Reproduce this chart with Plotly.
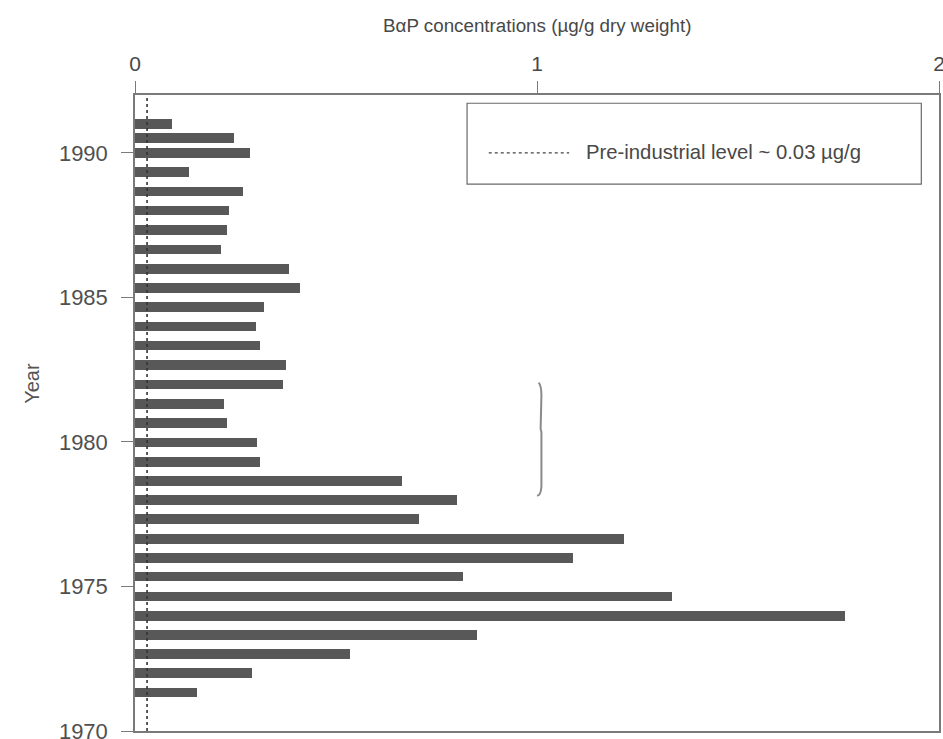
import plotly.graph_objects as go

# ---- data ----
years = [1991.00, 1990.52, 1990.00, 1989.34, 1988.67, 1988.00, 1987.33, 1986.66,
         1985.99, 1985.33, 1984.67, 1984.00, 1983.33, 1982.66, 1981.99, 1981.32,
         1980.65, 1979.98, 1979.31, 1978.65, 1978.00, 1977.34, 1976.65, 1975.99,
         1975.34, 1974.65, 1973.98, 1973.32, 1972.66, 1972.00, 1971.33]
bap_conc = [0.091, 0.246, 0.286, 0.134, 0.269, 0.233, 0.229, 0.214,
            0.382, 0.410, 0.322, 0.301, 0.311, 0.376, 0.369, 0.222,
            0.229, 0.304, 0.311, 0.665, 0.800, 0.707, 1.216, 1.090,
            0.817, 1.337, 1.765, 0.850, 0.534, 0.290, 0.153]
pre_industrial = 0.03
x_ticks = [0, 1, 2]
y_ticks = [1970, 1975, 1980, 1985, 1990]
x_range = [0, 2]
y_range = [1970, 1992]

FONT = "Liberation Sans, Arial, sans-serif"
TXT = "#484848"
AX = "#7a7a7a"

fig = go.Figure()
fig.add_trace(go.Bar(
    x=bap_conc, y=years, orientation="h", width=0.33,
    marker=dict(color="#585858", line=dict(width=0)),
    showlegend=False, hoverinfo="x+y"))
fig.add_trace(go.Scatter(
    x=[pre_industrial, pre_industrial], y=y_range, mode="lines",
    line=dict(color="#333333", width=1.6, dash="dot"),
    showlegend=False, hoverinfo="skip"))

# hand-drawn bracket artefact near x = 1
fig.add_shape(type="path", xref="x", yref="y",
              path="M 1.004,1982.05 Q 1.011,1981.95 1.011,1981.6 L 1.009,1980.45 "
                   "L 1.011,1980.35 L 1.011,1978.45 Q 1.009,1978.12 1.0,1978.15",
              line=dict(color="#8a8a8a", width=2))

# legend box drawn by hand
fig.add_shape(type="rect", xref="paper", yref="paper",
              x0=0.413, x1=0.978, y0=0.860, y1=0.987,
              line=dict(color="#6a6a6a", width=1.2), fillcolor="white")
fig.add_shape(type="line", xref="paper", yref="paper",
              x0=0.440, x1=0.540, y0=0.909, y1=0.909,
              line=dict(color="#444444", width=1.4, dash="dot"))
fig.add_annotation(xref="paper", yref="paper", x=0.559, y=0.911,
                   xanchor="left", yanchor="middle", showarrow=False,
                   text="Pre-industrial level ~ 0.03 µg/g",
                   font=dict(family=FONT, size=20.3, color=TXT))

# axis titles
fig.add_annotation(xref="paper", yref="paper", x=0.5, y=1.109,
                   xanchor="center", yanchor="middle", showarrow=False,
                   text="BαP concentrations (µg/g dry weight)",
                   font=dict(family=FONT, size=18.8, color=TXT))
fig.add_annotation(xref="paper", yref="paper", x=-0.128, y=0.546,
                   xanchor="center", yanchor="middle", showarrow=False,
                   textangle=-90, text="Year",
                   font=dict(family=FONT, size=20, color="#555555"))

fig.update_layout(
    width=943, height=739,
    margin=dict(l=135, r=4, t=95, b=8, autoexpand=False),
    paper_bgcolor="white", plot_bgcolor="white",
    bargap=0,
    xaxis=dict(range=x_range, side="top", tickvals=x_ticks,
               ticks="outside", ticklen=12, tickwidth=1.3, tickcolor=AX,
               showline=True, linecolor=AX, linewidth=1.5, mirror=True,
               showgrid=False, zeroline=False, ticklabelstandoff=2,
               ticklabeloverflow="allow",
               tickfont=dict(family=FONT, size=21, color=TXT)),
    yaxis=dict(range=y_range, tickvals=y_ticks,
               ticks="outside", ticklen=12, tickwidth=1.3, tickcolor=AX,
               showline=True, linecolor=AX, linewidth=1.5, mirror=True,
               showgrid=False, zeroline=False, ticklabelstandoff=9,
               ticklabeloverflow="allow",
               tickfont=dict(family=FONT, size=22, color="#505050")),
)

fig.write_html("out.html", config={"displayModeBar": False},
               post_script="document.body.style.margin='0';document.body.style.padding='0';")
